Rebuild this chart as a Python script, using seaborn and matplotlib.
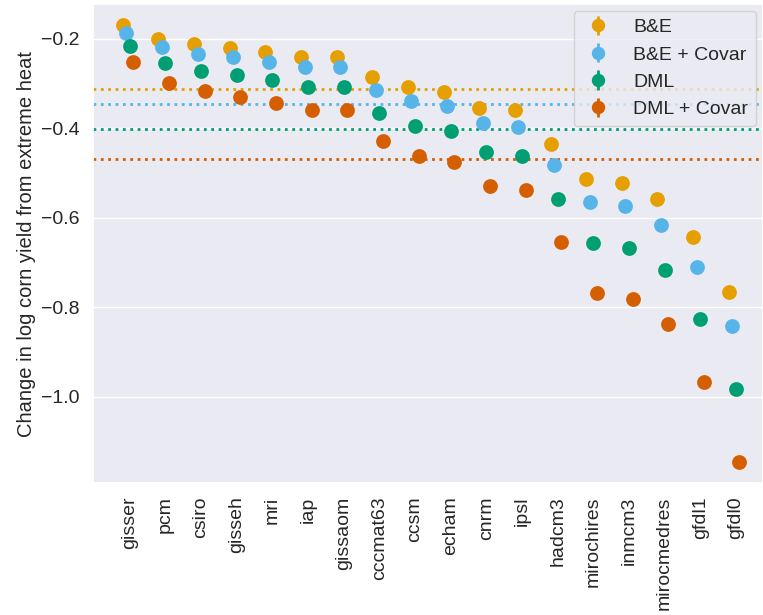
import numpy as np
import pandas as pd
import matplotlib
matplotlib.use("Agg")
import matplotlib.pyplot as plt
import seaborn as sns

models = ["gisser", "pcm", "csiro", "gisseh", "mri", "iap", "gissaom", "cccmat63",
          "ccsm", "echam", "cnrm", "ipsl", "hadcm3", "mirochires", "inmcm3",
          "mirocmedres", "gfdl1", "gfdl0"]
methods = ["B&E", "B&E + Covar", "DML", "DML + Covar"]

be = [-0.169, -0.200, -0.212, -0.220, -0.230, -0.241, -0.241, -0.286, -0.308,
      -0.318, -0.354, -0.359, -0.436, -0.513, -0.522, -0.559, -0.644, -0.766]
be_covar = [-0.186, -0.219, -0.234, -0.241, -0.252, -0.264, -0.264, -0.314, -0.339,
            -0.350, -0.389, -0.396, -0.481, -0.564, -0.574, -0.616, -0.710, -0.843]
dml = [-0.215, -0.255, -0.272, -0.281, -0.293, -0.308, -0.308, -0.366, -0.395,
       -0.407, -0.453, -0.462, -0.559, -0.657, -0.668, -0.717, -0.827, -0.982]
dml_covar = [-0.252, -0.298, -0.317, -0.329, -0.344, -0.359, -0.360, -0.428, -0.461,
             -0.476, -0.529, -0.539, -0.655, -0.768, -0.782, -0.838, -0.967, -1.147]

# pooled estimates (dotted lines)
pooled = [-0.313, -0.345, -0.401, -0.469]

colors = ["#E69F00", "#56B4E9", "#009E73", "#D55E00"]

df = pd.DataFrame({
    "model": models * 4,
    "method": np.repeat(methods, len(models)),
    "effect": be + be_covar + dml + dml_covar,
})

sns.set_theme(style="darkgrid")
plt.rcParams["font.family"] = ["Liberation Sans", "DejaVu Sans"]

fig, ax = plt.subplots(figsize=(7.63, 6.15), dpi=100)
fig.subplots_adjust(left=0.122, right=1.0, top=0.9935, bottom=0.214)

for val, c in zip(pooled, colors):
    ax.axhline(val, color=c, linestyle=":", linewidth=2, zorder=1)

sns.pointplot(data=df, x="model", y="effect", hue="method", order=models,
              hue_order=methods, palette=colors, dodge=0.3, linestyle="none",
              errorbar=None, markersize=8.6, ax=ax, legend=False)

# shift so offsets are -0.2, -0.1, 0, 0.1
for line in ax.lines:
    if line.get_marker() not in (None, "None", ""):
        line.set_xdata(np.asarray(line.get_xdata()) - 0.05)
        line.set_zorder(3)

handles = []
for m, c in zip(methods, colors):
    h = ax.errorbar([np.nan], [np.nan], yerr=[0.01], fmt="o", color=c,
                    markersize=8.6, elinewidth=2, label=m)
    handles.append(h)
ax.legend(handles=handles, labels=methods, loc="upper right", fontsize=14,
          bbox_to_anchor=(1.0, 1.0), borderaxespad=0.35,
          handlelength=1.75, handletextpad=0.93)

ax.set_xlim(-1.03, 17.76)
ax.set_ylim(-1.194, -0.122)
ax.set_yticks([-0.2, -0.4, -0.6, -0.8, -1.0])
ax.set_xlabel("")
ax.set_ylabel("Change in log corn yield from extreme heat", fontsize=14.5)
ax.tick_params(axis="x", labelrotation=90, labelsize=14)
ax.tick_params(axis="y", labelsize=14)

plt.savefig("out.png", dpi=100)
